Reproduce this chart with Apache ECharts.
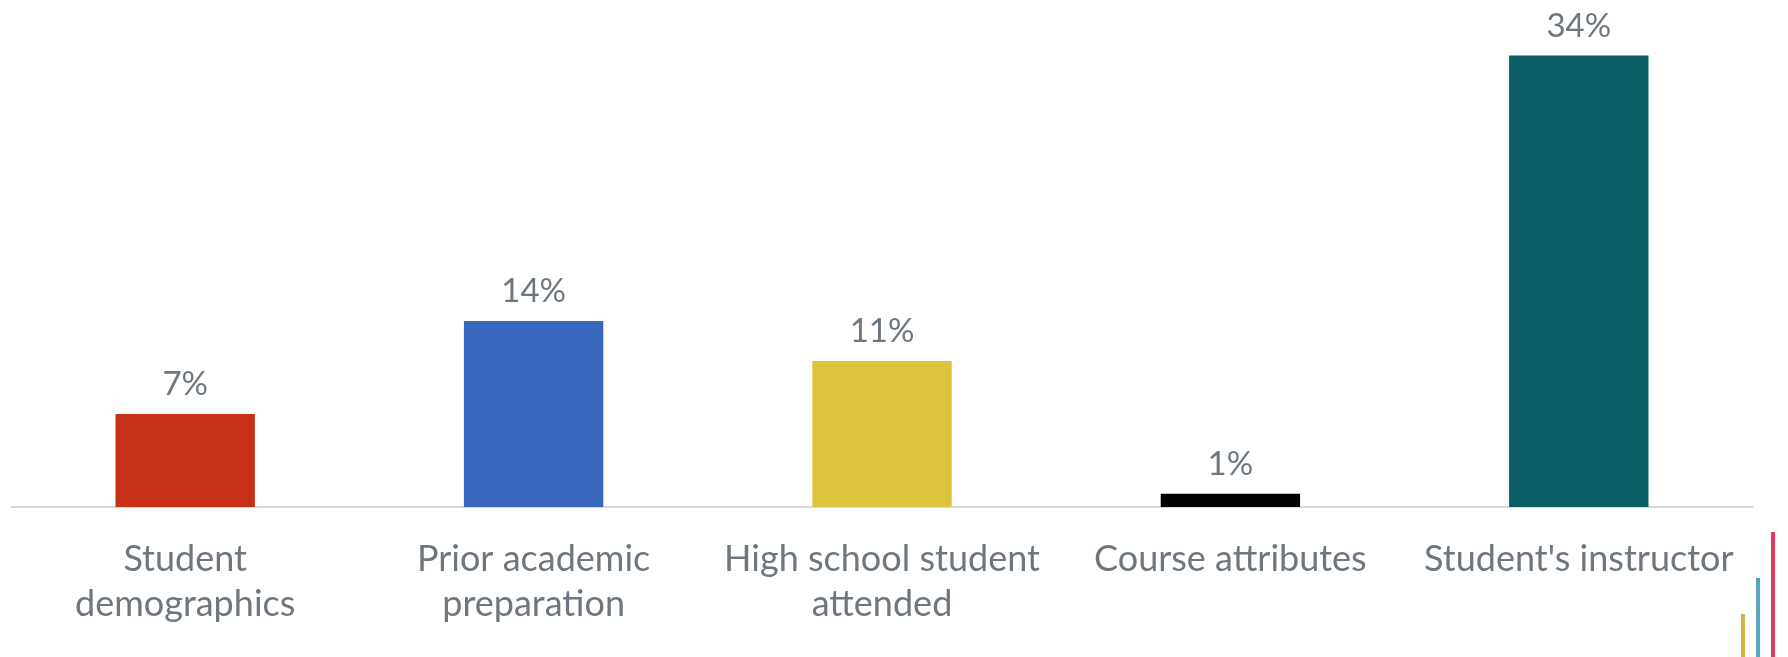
<!DOCTYPE html>
<html><head><meta charset="utf-8">
<script src="https://cdn.jsdelivr.net/npm/echarts@6/dist/echarts.min.js"></script>
<style>html,body{margin:0;padding:0;background:#fff}#c{width:1788px;height:657px}</style>
</head><body><div id="c"></div>
<script>
const categories = ["Student\ndemographics", "Prior academic\npreparation", "High school student\nattended", "Course attributes", "Student's instructor"];
const values = [7, 14, 11, 1, 34];
const barColors = ["#C73118", "#3767BF", "#DCC43C", "#000000", "#0A5E63"];

const chart = echarts.init(document.getElementById('c'));
const textColor = '#6E777F';
chart.setOption({
  animation: false,
  grid: {left: 11, right: 35, top: 29, bottom: 150, containLabel: false},
  xAxis: {
    type: 'category', data: categories,
    axisLine: {show: true, lineStyle: {color: '#D9D9D9', width: 2}},
    axisTick: {show: false},
    axisLabel: {color: textColor, fontFamily: 'Lato', fontSize: 36, lineHeight: 45, margin: 30, interval: 0}
  },
  yAxis: {type: 'value', min: 0, max: 36, show: false, splitLine: {show: false}},
  series: [{
    type: 'bar', barWidth: '40%',
    data: values.map((v, i) => ({value: v, itemStyle: {color: barColors[i]}})),
    label: {show: true, position: 'top', distance: 13, formatter: '{c}%', color: textColor, fontFamily: 'Lato', fontSize: 33}
  }],
  graphic: [
    {type: 'rect', shape: {x: 1771, y: 532, width: 4, height: 125}, style: {fill: '#E5385A'}},
    {type: 'rect', shape: {x: 1756, y: 578, width: 4, height: 79}, style: {fill: '#5AA4BE'}},
    {type: 'rect', shape: {x: 1741, y: 614, width: 4, height: 43}, style: {fill: '#D3B24A'}}
  ]
});
</script></body></html>
